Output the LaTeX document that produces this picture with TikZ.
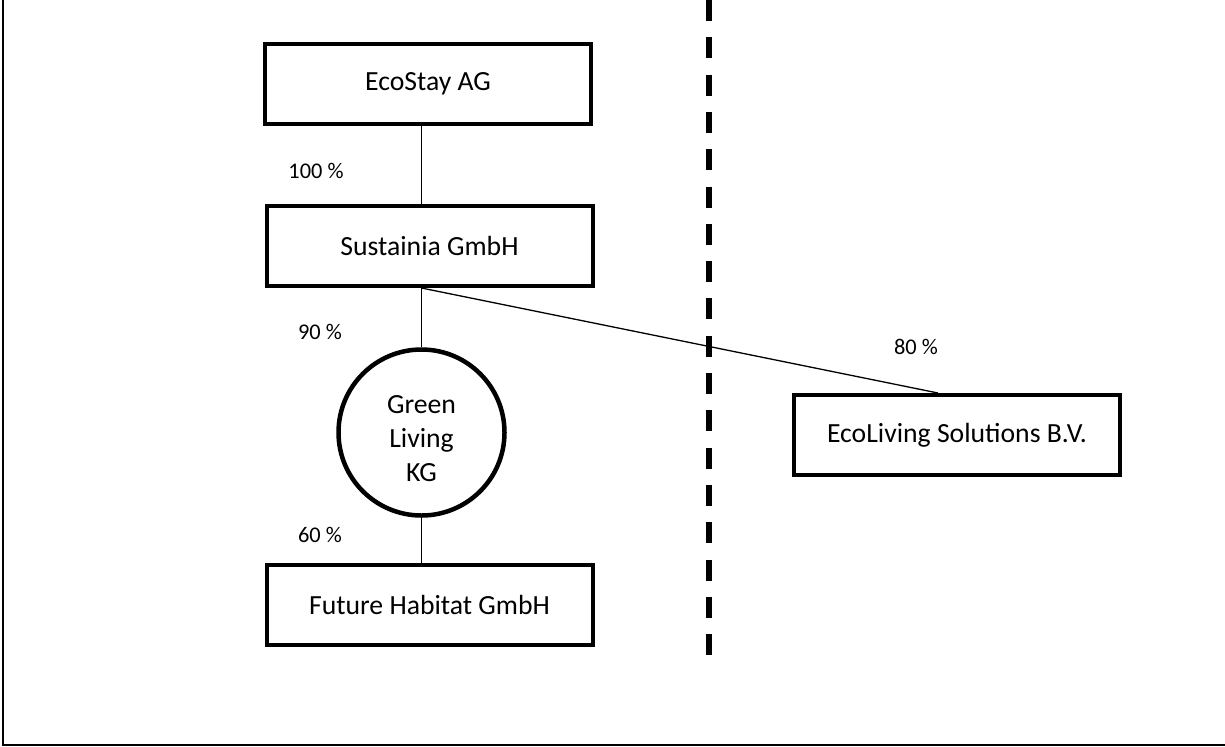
\documentclass[tikz,border=0pt]{standalone}
\usepackage{fontspec}
\setmainfont{Carlito}
\begin{document}
\begin{tikzpicture}[x=0.5pt,y=-0.5pt,
  box/.style={draw, line width=2pt, rectangle, minimum width=163pt, minimum height=40pt, inner sep=0pt, font=\fontsize{13.85}{17}\selectfont},
  circ/.style={draw, line width=2.25pt, circle, minimum size=83pt, inner sep=0pt},
  circtext/.style={align=center, inner sep=0pt, font=\fontsize{13.85}{17}\selectfont},
  conn/.style={line width=0.65pt},
  pct/.style={font=\fontsize{11.2}{13}\selectfont, inner sep=0pt},
  frame/.style={line width=1pt},
  border/.style={line width=2.75pt, dash pattern=on 10.5pt off 8.15pt}]
\useasboundingbox (0,0) rectangle (1225,746);
\draw[frame] (3,0) -- (3,745) -- (1225,745);
\coordinate (btop) at (709,0);
\coordinate (bbot) at (709,656);
\draw[border] (btop) -- (bbot);
\node[box] (eco) at (428,84) {EcoStay AG};
\node[box] (sus) at (429.5,246) {Sustainia GmbH};
\node[circ] (glk) at (421.5,432.5) {};
\node[circtext] (glktext) at ([yshift=-3pt]glk.center) {Green\\Living\\KG};
\node[box] (fut) at (429.5,604.5) {Future Habitat GmbH};
\node[box] (evs) at (957,435) {EcoLiving Solutions B.V.};
\draw[conn] (eco.south -| glk) -- (sus.north -| glk);
\draw[conn] (sus.south -| glk) -- (glk.north);
\draw[conn] (glk.south) -- (fut.north -| glk);
\draw[conn] (sus.south -| glk) -- ([xshift=-9.5pt]evs.north);
\node[pct] (p100) at (316,171) {100 \%};
\node[pct] (p90) at (320,332) {90 \%};
\node[pct] (p60) at (320,535) {60 \%};
\node[pct] (p80) at (916,347) {80 \%};
\end{tikzpicture}
\end{document}
